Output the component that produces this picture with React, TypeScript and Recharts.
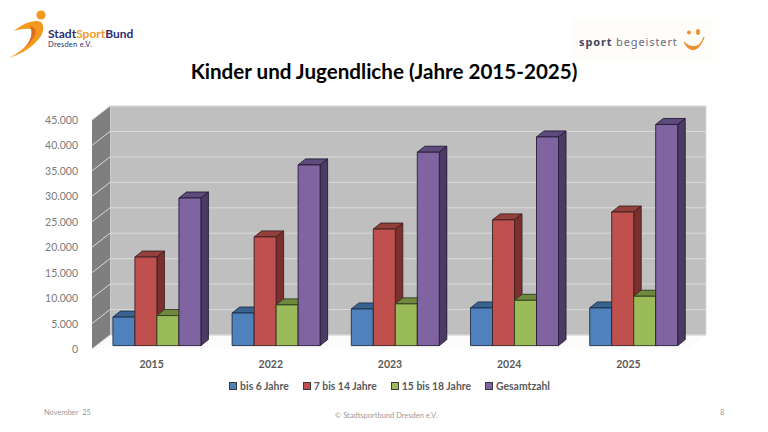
import { Bar, BarChart, CartesianGrid, Legend, XAxis, YAxis, usePlotArea } from 'recharts';

const YEARS = ['2015', '2022', '2023', '2024', '2025'];
const UNDER_6 = [5600, 6400, 7200, 7400, 7400];
const AGE_7_14 = [17400, 21350, 22900, 24700, 26250];
const AGE_15_18 = [5900, 8000, 8200, 8900, 9700];
const TOTAL = [29000, 35500, 38000, 41000, 43450];
const Y_TICKS = [0, 5000, 10000, 15000, 20000, 25000, 30000, 35000, 40000, 45000];

const rows = YEARS.map((year, i) => ({
  year,
  under6: UNDER_6[i],
  age7: AGE_7_14[i],
  age15: AGE_15_18[i],
  total: TOTAL[i],
}));

const FONT = 'Lato, "Open Sans", sans-serif';
// depth of the fake 3D room and of the bars in it
const ROOM_X = 18;
const ROOM_Y = 14;
const BAR_X = 4.7;
const BAR_Y = 3.4;
const DEPTH_X = 7.5;
const DEPTH_Y = 6;

const fmt = (v: number) => v.toLocaleString('de-DE');

function Room() {
  const area = usePlotArea();
  if (!area) return null;
  const { x, y, width, height } = area;
  const b = y + height;
  return (
    <g>
      <polygon points={`${x},${b} ${x + ROOM_X},${b - ROOM_Y} ${x + width + ROOM_X},${b - ROOM_Y} ${x + width},${b}`} fill="#fbfbfb" />
      <rect x={x + ROOM_X} y={y - ROOM_Y} width={width} height={height} fill="#bfbfbf" stroke="#dcdcdc" strokeWidth={0.8} />
      <polygon points={`${x},${y} ${x + ROOM_X},${y - ROOM_Y} ${x + ROOM_X},${b - ROOM_Y} ${x},${b}`} fill="#7f7f7f" />
    </g>
  );
}

// the grid is the first layer of the chart, so the room is painted with its first line
function gridLine(props: any) {
  const { x1, x2, y1, index } = props;
  return (
    <g key={props.key}>
      {index === 0 && <Room />}
      <polyline
        points={`${x1},${y1} ${x1 + ROOM_X},${y1 - ROOM_Y} ${x2 + ROOM_X},${y1 - ROOM_Y}`}
        fill="none"
        stroke="#d9d9d9"
        strokeWidth={1}
      />
    </g>
  );
}

function box(side: string, top: string, edge: string) {
  return (props: any) => {
    const { x, y, width, height, fill } = props;
    const l = x + BAR_X;
    const t = y - BAR_Y;
    const r = l + width;
    const b = t + height;
    return (
      <g stroke={edge} strokeWidth={0.9} strokeLinejoin="round">
        <polygon points={`${l},${t} ${l + DEPTH_X},${t - DEPTH_Y} ${r + DEPTH_X},${t - DEPTH_Y} ${r},${t}`} fill={top} />
        <polygon points={`${r},${t} ${r + DEPTH_X},${t - DEPTH_Y} ${r + DEPTH_X},${b - DEPTH_Y} ${r},${b}`} fill={side} />
        <rect x={l} y={t} width={width} height={height} fill={fill} />
      </g>
    );
  };
}

function YTick(props: any) {
  const { x, y, payload } = props;
  return (
    <text x={x} y={y} dy={4} textAnchor="end" fontFamily={FONT} fontSize={10.5} fill="#7a7a7a">
      {fmt(payload.value)}
    </text>
  );
}

function LegendRow(props: any) {
  const items = props.payload ?? [];
  return (
    <div style={{ display: 'flex', justifyContent: 'center', gap: 14, fontFamily: FONT, fontWeight: 700, fontSize: 10.4, color: '#595959', paddingLeft: 91, paddingTop: 1 }}>
      {items.map((it: any) => (
        <span key={it.value} style={{ display: 'flex', alignItems: 'center', gap: 3 }}>
          <span style={{ width: 6, height: 6, background: it.color, border: '1px solid #3a3a3a' }} />
          {it.value}
        </span>
      ))}
    </div>
  );
}

function Logos() {
  return (
    <svg width={768} height={432} style={{ position: 'absolute', left: 0, top: 0 }}>
      <circle cx={41} cy={15} r={4.6} fill="#f39a1e" />
      <path d="M14 31 C24 22 36 19 41 22 C45 26 44 34 37 41 C29 50 18 55 9 58 C20 52 30 44 34 35 C37 28 26 27 14 31 Z" fill="#f39a1e" />
      <path d="M30 26 C36 27 37 32 34 37 C31 42 27 46 23 49 C29 43 34 35 30 26 Z" fill="#dd6b20" />
      <text x={48} y={38} fontFamily={FONT} fontWeight={700} fontSize={12} fill="#2b2d6e">
        Stadt<tspan fill="#f39a1e">Sport</tspan>Bund
      </text>
      <text x={48} y={47} fontFamily={FONT} fontSize={7.5} fill="#2b2d6e" letterSpacing={0.25}>Dresden e.V.</text>

      <rect x={571} y={18} width={142} height={44} fill="#fffdf9" />
      <text x={579} y={46} fontFamily="'Noto Sans', sans-serif" fontWeight={700} fontSize={11} letterSpacing={0.9} fill="#45455f">sport</text>
      <text x={616} y={46} fontFamily="'Noto Sans', sans-serif" fontSize={11} letterSpacing={0.9} fill="#6a6a7e">begeistert</text>
      <ellipse cx={689} cy={32.5} rx={2} ry={2} fill="#ee8f2a" />
      <ellipse cx={698} cy={32} rx={2} ry={3} fill="#ee8f2a" />
      <path d="M684 42 C688 51 698 55 704 37 C701 47 692 50 684 42 Z" fill="#ee8f2a" stroke="#ee8f2a" strokeWidth={1} />
    </svg>
  );
}

export default function App() {
  return (
    <div style={{ position: 'absolute', left: 0, top: 0, width: 768, height: 432, background: '#fff', overflow: 'hidden' }}>
      <Logos />
      <div style={{ position: 'absolute', left: 0, right: 0, top: 59, textAlign: 'center', fontFamily: FONT, fontWeight: 700, fontSize: 20.6, color: '#000' }}>
        Kinder und Jugendliche (Jahre 2015-2025)
      </div>
      <BarChart
        width={768}
        height={432}
        data={rows}
        barGap={0}
        barCategoryGap="13.6%"
        margin={{ top: 120, right: 80, bottom: 28, left: 0 }}
        style={{ position: 'absolute', left: 0, top: 0 }}
      >
        <CartesianGrid vertical={false} horizontal={gridLine} />
        <XAxis
          dataKey="year"
          axisLine={false}
          tickLine={false}
          height={30}
          tickMargin={6}
          tick={{ fontFamily: FONT, fontWeight: 700, fontSize: 10.5, fill: '#595959' }}
        />
        <YAxis
          width={92}
          domain={[0, 45000]}
          ticks={Y_TICKS}
          interval={0}
          axisLine={false}
          tickLine={false}
          tickMargin={8}
          tick={YTick}
        />
        <Legend verticalAlign="bottom" height={25} content={LegendRow} itemSorter={null} />
        <Bar dataKey="under6" name="bis 6 Jahre" fill="#4f81bd" isAnimationActive={false} shape={box('#345a87', '#3a628f', '#1d2f48')} />
        <Bar dataKey="age7" name="7 bis 14 Jahre" fill="#c0504d" isAnimationActive={false} shape={box('#7d2f2d', '#93403d', '#3d2020')} />
        <Bar dataKey="age15" name="15 bis 18 Jahre" fill="#9bbb59" isAnimationActive={false} shape={box('#66803a', '#71893f', '#2f3a20')} />
        <Bar dataKey="total" name="Gesamtzahl" fill="#8064a2" isAnimationActive={false} shape={box('#4b3a63', '#5e4a7c', '#251c33')} />
      </BarChart>
      <div style={{ position: 'absolute', left: 44, top: 408, fontFamily: FONT, fontSize: 7.5, color: '#9a9a9a', whiteSpace: 'pre' }}>November  25</div>
      <div style={{ position: 'absolute', left: 335, top: 411, fontFamily: FONT, fontSize: 7.5, color: '#9a9a9a' }}>© Stadtsportbund Dresden e.V.</div>
      <div style={{ position: 'absolute', left: 720, top: 408, fontFamily: FONT, fontSize: 7.5, color: '#9a9a9a' }}>8</div>
    </div>
  );
}
